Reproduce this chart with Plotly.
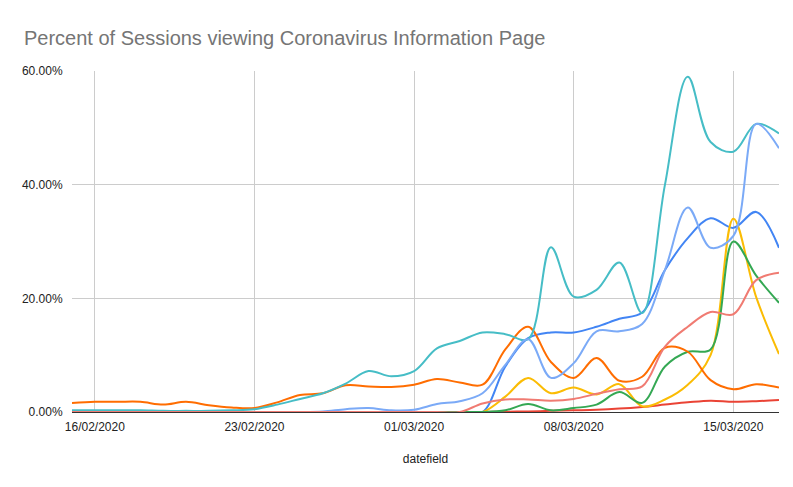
import plotly.graph_objects as go
import pandas as pd

dates = pd.date_range("2020-02-15", "2020-03-17", freq="D")

series_names = ["Series A", "Series B", "Series C", "Series D",
                "Series E", "Series F", "Series G", "Series H"]

blue = [0, 0, 0, 0, 0, 0, 0, 0, 0, 0, 0, 0, 0, 0, 0, 0, 0, 0, 0,
        8, 13, 14, 14, 15, 16.4, 17.5, 25, 30.6, 34.1, 32.4, 35.2, 28.9]
red = [0, 0, 0, 0, 0, 0, 0, 0, 0, 0, 0, 0, 0, 0, 0, 0, 0, 0, 0,
       0.05, 0.1, 0.2, 0.3, 0.4, 0.6, 0.9, 1.3, 1.7, 2.0, 1.8, 1.9, 2.1]
yellow = [0, 0, 0, 0, 0, 0, 0, 0, 0, 0, 0, 0, 0, 0, 0, 0, 0, 0, 0,
          2.7, 6, 3.3, 4.3, 3.1, 4.9, 1.0, 2.2, 4.8, 10, 34, 20.2, 10.2]
green = [0, 0, 0, 0, 0, 0, 0, 0, 0, 0, 0, 0, 0, 0, 0, 0, 0, 0, 0,
         0.3, 1.4, 0.3, 0.7, 1.3, 3.5, 1.6, 8, 10.6, 11, 30, 24, 19.2]
orange = [1.6, 1.8, 1.8, 1.8, 1.3, 1.8, 1.2, 0.8, 0.7, 1.7, 3.0, 3.3,
          4.7, 4.5, 4.4, 4.8, 5.8, 5.2, 4.8, 11, 15, 8.8, 6, 9.5, 5.5,
          6.2, 11.3, 10.6, 5.6, 4.0, 4.9, 4.3]
teal = [0.3, 0.3, 0.3, 0.3, 0.2, 0.2, 0.2, 0.3, 0.5, 1.3, 2.3, 3.3,
        5.0, 7.2, 6.3, 7.2, 11.2, 12.5, 14, 13.7, 12.8, 29, 20.3, 21.5,
        26.3, 17.4, 40, 59, 47.5, 45.8, 50.7, 49]
lightblue = [0, 0, 0, 0, 0, 0, 0, 0, 0, 0, 0, 0.1, 0.5, 0.7, 0.3, 0.4,
             1.4, 1.9, 3.3, 8.3, 12.8, 6, 8.6, 14.2, 14.2, 15.5, 25, 36,
             28.9, 31, 50.7, 46.4]
salmon = [0, 0, 0, 0, 0, 0, 0, 0, 0, 0, 0, 0, 0, 0, 0, 0, 0, 0,
          1.5, 2.2, 2.2, 2.0, 2.3, 3.2, 4.0, 4.5, 11.5, 15, 17.6, 17.2,
          23.2, 24.5]

colors = ["#4285F4", "#EA4335", "#FBBC04", "#34A853",
          "#FF6D01", "#46BDC6", "#7BAAF7", "#F07B72"]
values = [blue, red, yellow, green, orange, teal, lightblue, salmon]

y_ticks = [0, 20, 40, 60]
x_ticks = pd.to_datetime(["2020-02-16", "2020-02-23", "2020-03-01",
                          "2020-03-08", "2020-03-15"])
x_ticklabels = ["16/02/2020", "23/02/2020", "01/03/2020",
                "08/03/2020", "15/03/2020"]

fig = go.Figure()
for name, vals, col in zip(series_names, values, colors):
    fig.add_trace(go.Scatter(
        x=dates, y=vals, name=name, mode="lines",
        line=dict(color=col, width=2, shape="spline", smoothing=1.0),
    ))

font_family = "Arial, Liberation Sans, sans-serif"
fig.update_layout(
    width=793, height=487,
    margin=dict(l=72, r=14, t=71, b=75),
    paper_bgcolor="white", plot_bgcolor="white",
    showlegend=False,
    font=dict(family=font_family, size=12, color="#222222"),
    title=dict(
        text="Percent of Sessions viewing Coronavirus Information Page",
        x=24 / 793, xref="container", xanchor="left",
        y=1 - 38 / 487, yref="container", yanchor="middle",
        font=dict(family=font_family, size=20, color="#757575"),
    ),
    xaxis=dict(
        range=[dates[0], dates[-1]],
        tickvals=x_ticks, ticktext=x_ticklabels,
        showgrid=True, gridcolor="#cccccc", gridwidth=1,
        zeroline=False, showline=False,
        ticks="outside", ticklen=4, tickcolor="rgba(0,0,0,0)",
        tickfont=dict(size=12, color="#222222"),
        title=dict(text="datefield", font=dict(size=12, color="#222222"),
                   standoff=21),
    ),
    yaxis=dict(
        range=[0, 60],
        tickvals=y_ticks,
        ticktext=[f"{v:.2f}%" for v in y_ticks],
        showgrid=True, gridcolor="#cccccc", gridwidth=1,
        zeroline=True, zerolinecolor="#333333", zerolinewidth=1,
        showline=False,
        ticks="outside", ticklen=6, tickcolor="rgba(0,0,0,0)",
        tickfont=dict(size=12, color="#222222"),
    ),
)

fig.write_html("out.html")
